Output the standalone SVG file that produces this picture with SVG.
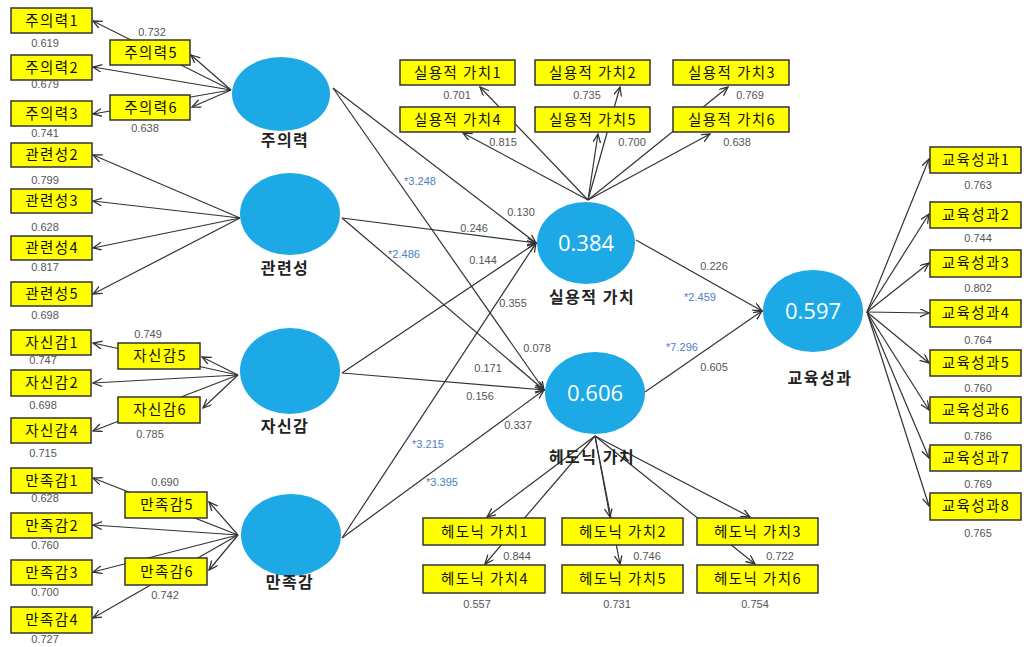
<svg xmlns="http://www.w3.org/2000/svg" width="1027" height="647" viewBox="0 0 1027 647">
<style>
.bx{fill:#ffff00;stroke:#333;stroke-width:1.5}
.bt{font-family:"Noto Sans CJK KR","Liberation Sans",sans-serif;font-size:14.5px;fill:#111;text-anchor:middle;letter-spacing:1.4px}
.ld{font-family:"Liberation Sans","Noto Sans",sans-serif;font-size:11px;fill:#555;text-anchor:middle}
.tv{font-family:"Liberation Sans","Noto Sans",sans-serif;font-size:11px;fill:#4a80c4;text-anchor:middle}
.lv{fill:#1ca9e6}
.cv{font-family:"Open Sans","Noto Sans",sans-serif;font-size:22px;fill:#ffffff;text-anchor:middle}
.cn{font-family:"Noto Sans CJK KR",sans-serif;font-size:16px;font-weight:bold;fill:#222;text-anchor:middle;letter-spacing:1.5px}
.ln{stroke:#333;stroke-width:1.2;fill:none;marker-end:url(#ar)}
</style>
<defs>
<marker id="ar" markerUnits="userSpaceOnUse" markerWidth="10" markerHeight="10" refX="9" refY="4" orient="auto">
<path d="M0,0 L9,4 L0,8" fill="none" stroke="#333" stroke-width="1.3"/>
</marker>
</defs>
<rect width="1027" height="647" fill="#ffffff"/>

<g id="connectors">
<line class="ln" x1="231" y1="90" x2="93" y2="21"/>
<line class="ln" x1="231" y1="90" x2="191" y2="55"/>
<line class="ln" x1="231" y1="90" x2="93" y2="67"/>
<line class="ln" x1="231" y1="90" x2="192" y2="107"/>
<line class="ln" x1="231" y1="90" x2="93" y2="114"/>
<line class="ln" x1="240" y1="218" x2="93" y2="155"/>
<line class="ln" x1="240" y1="218" x2="93" y2="201"/>
<line class="ln" x1="240" y1="218" x2="93" y2="248"/>
<line class="ln" x1="240" y1="218" x2="93" y2="294"/>
<line class="ln" x1="238" y1="375" x2="93" y2="343"/>
<line class="ln" x1="238" y1="375" x2="202" y2="357"/>
<line class="ln" x1="238" y1="375" x2="93" y2="383"/>
<line class="ln" x1="238" y1="375" x2="203" y2="408"/>
<line class="ln" x1="238" y1="375" x2="93" y2="431"/>
<line class="ln" x1="238" y1="535" x2="93" y2="478"/>
<line class="ln" x1="238" y1="535" x2="209" y2="502"/>
<line class="ln" x1="238" y1="535" x2="93" y2="525"/>
<line class="ln" x1="238" y1="535" x2="93" y2="572"/>
<line class="ln" x1="238" y1="535" x2="209" y2="570"/>
<line class="ln" x1="238" y1="535" x2="93" y2="618"/>
<line class="ln" x1="588" y1="200" x2="480" y2="87"/>
<line class="ln" x1="588" y1="200" x2="463" y2="133"/>
<line class="ln" x1="588" y1="200" x2="620" y2="87"/>
<line class="ln" x1="588" y1="200" x2="598" y2="134"/>
<line class="ln" x1="588" y1="200" x2="728" y2="87"/>
<line class="ln" x1="588" y1="200" x2="710" y2="134"/>
<line class="ln" x1="595" y1="436" x2="487" y2="517"/>
<line class="ln" x1="595" y1="436" x2="485" y2="564"/>
<line class="ln" x1="595" y1="436" x2="610" y2="517"/>
<line class="ln" x1="595" y1="436" x2="620" y2="564"/>
<line class="ln" x1="595" y1="436" x2="750" y2="517"/>
<line class="ln" x1="595" y1="436" x2="755" y2="564"/>
<line class="ln" x1="867" y1="312" x2="929" y2="159"/>
<line class="ln" x1="867" y1="312" x2="929" y2="214"/>
<line class="ln" x1="867" y1="312" x2="929" y2="263"/>
<line class="ln" x1="867" y1="312" x2="929" y2="313"/>
<line class="ln" x1="867" y1="312" x2="929" y2="363"/>
<line class="ln" x1="867" y1="312" x2="929" y2="410"/>
<line class="ln" x1="867" y1="312" x2="929" y2="458"/>
<line class="ln" x1="867" y1="312" x2="929" y2="506"/>
<line class="ln" x1="333" y1="88" x2="536" y2="243"/>
<line class="ln" x1="333" y1="88" x2="544" y2="390"/>
<line class="ln" x1="342" y1="218" x2="536" y2="243"/>
<line class="ln" x1="342" y1="218" x2="544" y2="390"/>
<line class="ln" x1="342" y1="373" x2="536" y2="243"/>
<line class="ln" x1="342" y1="373" x2="544" y2="390"/>
<line class="ln" x1="342" y1="538" x2="536" y2="243"/>
<line class="ln" x1="342" y1="538" x2="544" y2="390"/>
<line class="ln" x1="636" y1="240" x2="762" y2="311"/>
<line class="ln" x1="645" y1="392" x2="762" y2="311"/>
</g>

<g id="path-labels">
<text class="tv" x="420" y="185">*3.248</text>
<text class="ld" x="521" y="216">0.130</text>
<text class="ld" x="474" y="232">0.246</text>
<text class="tv" x="404" y="258">*2.486</text>
<text class="ld" x="483" y="264">0.144</text>
<text class="ld" x="513" y="307">0.355</text>
<text class="ld" x="537" y="352">0.078</text>
<text class="ld" x="488" y="372">0.171</text>
<text class="ld" x="480" y="400">0.156</text>
<text class="ld" x="518" y="429">0.337</text>
<text class="tv" x="428" y="448">*3.215</text>
<text class="tv" x="442" y="486">*3.395</text>
<text class="ld" x="714" y="270">0.226</text>
<text class="tv" x="700" y="301">*2.459</text>
<text class="tv" x="682" y="351">*7.296</text>
<text class="ld" x="714" y="371">0.605</text>
</g>

<g id="n-jueuiryeok">
<ellipse class="lv" cx="281" cy="94" rx="49" ry="37"/>
<text class="cn" x="285" y="146">주의력</text>
</g>
<g id="i-jueuiryeok1"><rect class="bx" x="11" y="8" width="81" height="25"/><text class="bt" x="52" y="26">주의력1</text><text class="ld" x="45" y="47">0.619</text></g>
<g id="i-jueuiryeok5"><rect class="bx" x="110" y="40" width="80" height="25"/><text class="bt" x="151" y="58">주의력5</text><text class="ld" x="152" y="36">0.732</text></g>
<g id="i-jueuiryeok2"><rect class="bx" x="11" y="55" width="81" height="25"/><text class="bt" x="52" y="73">주의력2</text><text class="ld" x="45" y="88">0.679</text></g>
<g id="i-jueuiryeok6"><rect class="bx" x="110" y="95" width="80" height="25"/><text class="bt" x="151" y="113">주의력6</text><text class="ld" x="145" y="132">0.638</text></g>
<g id="i-jueuiryeok3"><rect class="bx" x="11" y="101" width="81" height="25"/><text class="bt" x="52" y="119">주의력3</text><text class="ld" x="45" y="137">0.741</text></g>

<g id="n-gwanryeonseong">
<ellipse class="lv" cx="290" cy="214" rx="50" ry="41"/>
<text class="cn" x="285" y="274">관련성</text>
</g>
<g id="i-gwanryeonseong2"><rect class="bx" x="11" y="143" width="81" height="24"/><text class="bt" x="52" y="160">관련성2</text><text class="ld" x="45" y="184">0.799</text></g>
<g id="i-gwanryeonseong3"><rect class="bx" x="11" y="189" width="81" height="24"/><text class="bt" x="52" y="206">관련성3</text><text class="ld" x="45" y="231">0.628</text></g>
<g id="i-gwanryeonseong4"><rect class="bx" x="11" y="236" width="81" height="24"/><text class="bt" x="52" y="253">관련성4</text><text class="ld" x="45" y="271">0.817</text></g>
<g id="i-gwanryeonseong5"><rect class="bx" x="11" y="282" width="81" height="24"/><text class="bt" x="52" y="299">관련성5</text><text class="ld" x="45" y="319">0.698</text></g>

<g id="n-jasingam">
<ellipse class="lv" cx="290" cy="371" rx="50" ry="43"/>
<text class="cn" x="285" y="432">자신감</text>
</g>
<g id="i-jasingam1"><rect class="bx" x="11" y="330" width="80" height="25"/><text class="bt" x="52" y="348">자신감1</text><text class="ld" x="43" y="364">0.747</text></g>
<g id="i-jasingam5"><rect class="bx" x="118" y="343" width="82" height="26"/><text class="bt" x="160" y="361">자신감5</text><text class="ld" x="148" y="338">0.749</text></g>
<g id="i-jasingam2"><rect class="bx" x="11" y="370" width="80" height="26"/><text class="bt" x="52" y="388">자신감2</text><text class="ld" x="43" y="409">0.698</text></g>
<g id="i-jasingam6"><rect class="bx" x="118" y="397" width="82" height="26"/><text class="bt" x="160" y="415">자신감6</text><text class="ld" x="150" y="438">0.785</text></g>
<g id="i-jasingam4"><rect class="bx" x="11" y="418" width="80" height="25"/><text class="bt" x="52" y="436">자신감4</text><text class="ld" x="43" y="457">0.715</text></g>

<g id="n-manjokgam">
<ellipse class="lv" cx="291" cy="535" rx="50" ry="41"/>
<text class="cn" x="290" y="588">만족감</text>
</g>
<g id="i-manjokgam1"><rect class="bx" x="11" y="468" width="81" height="25"/><text class="bt" x="52" y="486">만족감1</text><text class="ld" x="45" y="502">0.628</text></g>
<g id="i-manjokgam5"><rect class="bx" x="125" y="492" width="82" height="26"/><text class="bt" x="167" y="510">만족감5</text><text class="ld" x="165" y="486">0.690</text></g>
<g id="i-manjokgam2"><rect class="bx" x="11" y="513" width="81" height="25"/><text class="bt" x="52" y="531">만족감2</text><text class="ld" x="45" y="549">0.760</text></g>
<g id="i-manjokgam3"><rect class="bx" x="11" y="560" width="81" height="25"/><text class="bt" x="52" y="578">만족감3</text><text class="ld" x="45" y="596">0.700</text></g>
<g id="i-manjokgam6"><rect class="bx" x="125" y="558" width="82" height="27"/><text class="bt" x="167" y="577">만족감6</text><text class="ld" x="165" y="599">0.742</text></g>
<g id="i-manjokgam4"><rect class="bx" x="11" y="607" width="81" height="26"/><text class="bt" x="52" y="625">만족감4</text><text class="ld" x="45" y="643">0.727</text></g>

<g id="n-siryongjeok">
<ellipse class="lv" cx="586" cy="243" rx="49" ry="41"/>
<text class="cv" x="586" y="251">0.384</text>
<text class="cn" x="592" y="303">실용적 가치</text>
</g>
<g id="i-sv1"><rect class="bx" x="400" y="60" width="115" height="25"/><text class="bt" x="458" y="78">실용적 가치1</text><text class="ld" x="457" y="99">0.701</text></g>
<g id="i-sv2"><rect class="bx" x="535" y="60" width="115" height="25"/><text class="bt" x="593" y="78">실용적 가치2</text><text class="ld" x="587" y="99">0.735</text></g>
<g id="i-sv3"><rect class="bx" x="673" y="60" width="116" height="25"/><text class="bt" x="732" y="78">실용적 가치3</text><text class="ld" x="750" y="99">0.769</text></g>
<g id="i-sv4"><rect class="bx" x="400" y="107" width="115" height="25"/><text class="bt" x="458" y="125">실용적 가치4</text><text class="ld" x="503" y="146">0.815</text></g>
<g id="i-sv5"><rect class="bx" x="535" y="107" width="115" height="25"/><text class="bt" x="593" y="125">실용적 가치5</text><text class="ld" x="632" y="146">0.700</text></g>
<g id="i-sv6"><rect class="bx" x="673" y="107" width="116" height="25"/><text class="bt" x="732" y="125">실용적 가치6</text><text class="ld" x="737" y="146">0.638</text></g>

<g id="n-hedonic">
<ellipse class="lv" cx="595" cy="393" rx="50" ry="41"/>
<text class="cv" x="595" y="401">0.606</text>
<text class="cn" x="592" y="463">헤도닉 가치</text>
</g>
<g id="i-hv1"><rect class="bx" x="423" y="518" width="122" height="27"/><text class="bt" x="485" y="537">헤도닉 가치1</text><text class="ld" x="517" y="560">0.844</text></g>
<g id="i-hv2"><rect class="bx" x="562" y="518" width="121" height="27"/><text class="bt" x="623" y="537">헤도닉 가치2</text><text class="ld" x="647" y="560">0.746</text></g>
<g id="i-hv3"><rect class="bx" x="697" y="518" width="121" height="27"/><text class="bt" x="758" y="537">헤도닉 가치3</text><text class="ld" x="780" y="560">0.722</text></g>
<g id="i-hv4"><rect class="bx" x="423" y="565" width="122" height="28"/><text class="bt" x="485" y="584">헤도닉 가치4</text><text class="ld" x="477" y="608">0.557</text></g>
<g id="i-hv5"><rect class="bx" x="562" y="565" width="121" height="28"/><text class="bt" x="623" y="584">헤도닉 가치5</text><text class="ld" x="617" y="608">0.731</text></g>
<g id="i-hv6"><rect class="bx" x="697" y="565" width="121" height="28"/><text class="bt" x="758" y="584">헤도닉 가치6</text><text class="ld" x="755" y="608">0.754</text></g>

<g id="n-gyoyuk">
<ellipse class="lv" cx="813" cy="311" rx="50" ry="41"/>
<text class="cv" x="813" y="319">0.597</text>
<text class="cn" x="820" y="384">교육성과</text>
</g>
<g id="i-ed1"><rect class="bx" x="930" y="147" width="91" height="26"/><text class="bt" x="976" y="165">교육성과1</text><text class="ld" x="978" y="189">0.763</text></g>
<g id="i-ed2"><rect class="bx" x="930" y="202" width="91" height="26"/><text class="bt" x="976" y="220">교육성과2</text><text class="ld" x="978" y="242">0.744</text></g>
<g id="i-ed3"><rect class="bx" x="930" y="250" width="91" height="27"/><text class="bt" x="976" y="268">교육성과3</text><text class="ld" x="978" y="292">0.802</text></g>
<g id="i-ed4"><rect class="bx" x="930" y="300" width="91" height="27"/><text class="bt" x="976" y="318">교육성과4</text><text class="ld" x="978" y="344">0.764</text></g>
<g id="i-ed5"><rect class="bx" x="930" y="350" width="91" height="26"/><text class="bt" x="976" y="368">교육성과5</text><text class="ld" x="978" y="392">0.760</text></g>
<g id="i-ed6"><rect class="bx" x="930" y="397" width="91" height="26"/><text class="bt" x="976" y="415">교육성과6</text><text class="ld" x="978" y="440">0.786</text></g>
<g id="i-ed7"><rect class="bx" x="930" y="445" width="91" height="26"/><text class="bt" x="976" y="463">교육성과7</text><text class="ld" x="978" y="488">0.769</text></g>
<g id="i-ed8"><rect class="bx" x="930" y="493" width="91" height="27"/><text class="bt" x="976" y="511">교육성과8</text><text class="ld" x="978" y="537">0.765</text></g>
</svg>
